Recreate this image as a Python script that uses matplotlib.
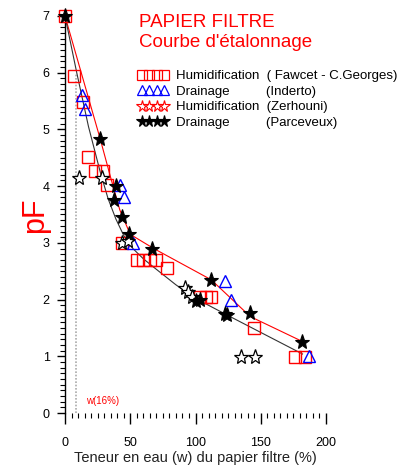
import numpy as np
import matplotlib
matplotlib.use("Agg")
import matplotlib.pyplot as plt
from matplotlib.lines import Line2D
from matplotlib.ticker import MultipleLocator

plt.rcParams["font.family"] = ["Liberation Sans", "DejaVu Sans"]

# Humidification (Fawcet - C.Georges) : open red squares
fawcet_w  = [0, 6.9, 13.5, 17.9, 23.0, 28.8, 31.9, 43.4, 55.0, 60.0, 65.0, 69.6, 77.8,
             103.3, 107.9, 112.2, 144.6, 176.5, 183.6]
fawcet_pf = [7.0, 5.95, 5.49, 4.51, 4.26, 4.26, 4.02, 2.99, 2.70, 2.70, 2.70, 2.70, 2.55,
             2.05, 2.05, 2.05, 1.49, 0.99, 0.99]

# Drainage (Inderto) : open blue triangles
inderto_w  = [13.3, 15.3, 42.1, 45.4, 51.8, 122.9, 127.0, 186.7]
inderto_pf = [5.61, 5.36, 4.02, 3.80, 2.99, 2.32, 2.00, 1.00]

# Humidification (Zerhouni) : open stars
zerhouni_w  = [10.5, 28.0, 44.0, 48.5, 91.8, 94.3, 97.0, 135.2, 145.9]
zerhouni_pf = [4.14, 4.14, 2.99, 3.04, 2.20, 2.13, 2.05, 0.99, 0.99]

# Drainage (Parceveux) : filled black stars
parce_w  = [0, 27.0, 39.3, 37.7, 43.4, 49.4, 66.8, 100.7, 103.3, 112.2, 122.4, 124.0, 142.0, 181.6]
parce_pf = [7.0, 4.83, 4.01, 3.76, 3.45, 3.16, 2.90, 1.98, 2.00, 2.35, 1.75, 1.73, 1.76, 1.26]

# calibration curves
curve_h_w  = [0, 27.0, 35.0, 42.0, 50.0, 68.0, 112.0, 142.0, 182.0]
curve_h_pf = [7.0, 4.83, 4.15, 3.58, 3.15, 2.90, 2.35, 1.70, 1.26]
curve_d_w  = [0, 9, 18, 27, 33, 39, 45, 52, 60, 68, 85, 100, 124, 182]
curve_d_pf = [7.0, 6.0, 5.05, 4.25, 3.78, 3.42, 3.13, 2.90, 2.72, 2.57, 2.26, 2.02, 1.73, 1.04]

W16 = 8.4

fig = plt.figure(figsize=(4.05, 4.65), dpi=100)
ax = fig.add_axes([65 / 405, 1 - 413 / 465, 261 / 405, 397 / 465])

ax.plot(curve_h_w, curve_h_pf, color="red", lw=0.8, zorder=2)
ax.plot(curve_d_w, curve_d_pf, color="#333333", lw=0.8, zorder=2)
ax.vlines(W16, 0, 6.0, color="#aaaaaa", lw=1.2, linestyles=(0, (1, 1)), zorder=1)
ax.text(16, 0.15, "w(16%)", color="red", fontsize=7)

ms = 8.5
ax.plot(fawcet_w, fawcet_pf, "s", mfc="none", mec="red", mew=1.0, ms=ms, clip_on=False, zorder=3)
ax.plot(inderto_w, inderto_pf, "^", mfc="none", mec="blue", mew=1.0, ms=ms, clip_on=False, zorder=3)
ax.plot(zerhouni_w, zerhouni_pf, "*", mfc="white", mec="black", mew=0.9, ms=11, clip_on=False, zorder=4)
ax.plot(parce_w, parce_pf, "*", mfc="black", mec="black", mew=0.8, ms=11, clip_on=False, zorder=5)

ax.set_xlim(0, 200)
ax.set_ylim(0, 7)
for s in ("top", "right", "bottom"):
    ax.spines[s].set_visible(False)
ax.spines["left"].set_linewidth(1.0)
ax.xaxis.set_major_locator(MultipleLocator(50))
ax.xaxis.set_minor_locator(MultipleLocator(5))
ax.yaxis.set_major_locator(MultipleLocator(1))
ax.yaxis.set_minor_locator(MultipleLocator(0.1))
ax.tick_params(axis="y", which="major", direction="out", length=6, width=1.0, labelsize=9, pad=5)
ax.tick_params(axis="y", which="minor", direction="out", length=3.5, width=0.8)
ax.tick_params(axis="x", which="major", direction="out", length=8, width=1.0, labelsize=9, pad=9)
ax.tick_params(axis="x", which="minor", direction="out", length=3.8, width=0.8)

ax.set_xlabel("Teneur en eau (w) du papier filtre (%)", fontsize=10.5, color="#222222", labelpad=1.5)
fig.text(35 / 405, 1 - 215 / 465, "pF", color="red", fontsize=22, rotation=90,
         ha="center", va="center")

fig.text(139 / 405, 1 - 26.7 / 465, "PAPIER FILTRE", color="red", fontsize=13.5, va="baseline")
fig.text(139 / 405, 1 - 46.7 / 465, "Courbe d'\u00e9talonnage", color="red", fontsize=13.5, va="baseline")

handles = [
    Line2D([], [], marker="s", ls="none", mfc="none", mec="red", ms=6.5, mew=0.9),
    Line2D([], [], marker="^", ls="none", mfc="none", mec="blue", ms=6.5, mew=0.9),
    Line2D([], [], marker="*", ls="none", mfc="none", mec="red", ms=8.5, mew=0.8),
    Line2D([], [], marker="*", ls="none", mfc="black", mec="black", ms=8.5, mew=0.8),
]
labels = [
    "Humidification  ( Fawcet - C.Georges)",
    "Drainage          (Inderto)",
    "Humidification  (Zerhouni)",
    "Drainage          (Parceveux)",
]
fig.legend(handles, labels, loc="upper left", bbox_to_anchor=(138 / 405, 1 - 70 / 465),
           frameon=False, numpoints=4, handlelength=2.27, handletextpad=0.58,
           borderpad=0, borderaxespad=0, labelspacing=0.25, fontsize=9.5)

fig.savefig("out.png", dpi=100)
